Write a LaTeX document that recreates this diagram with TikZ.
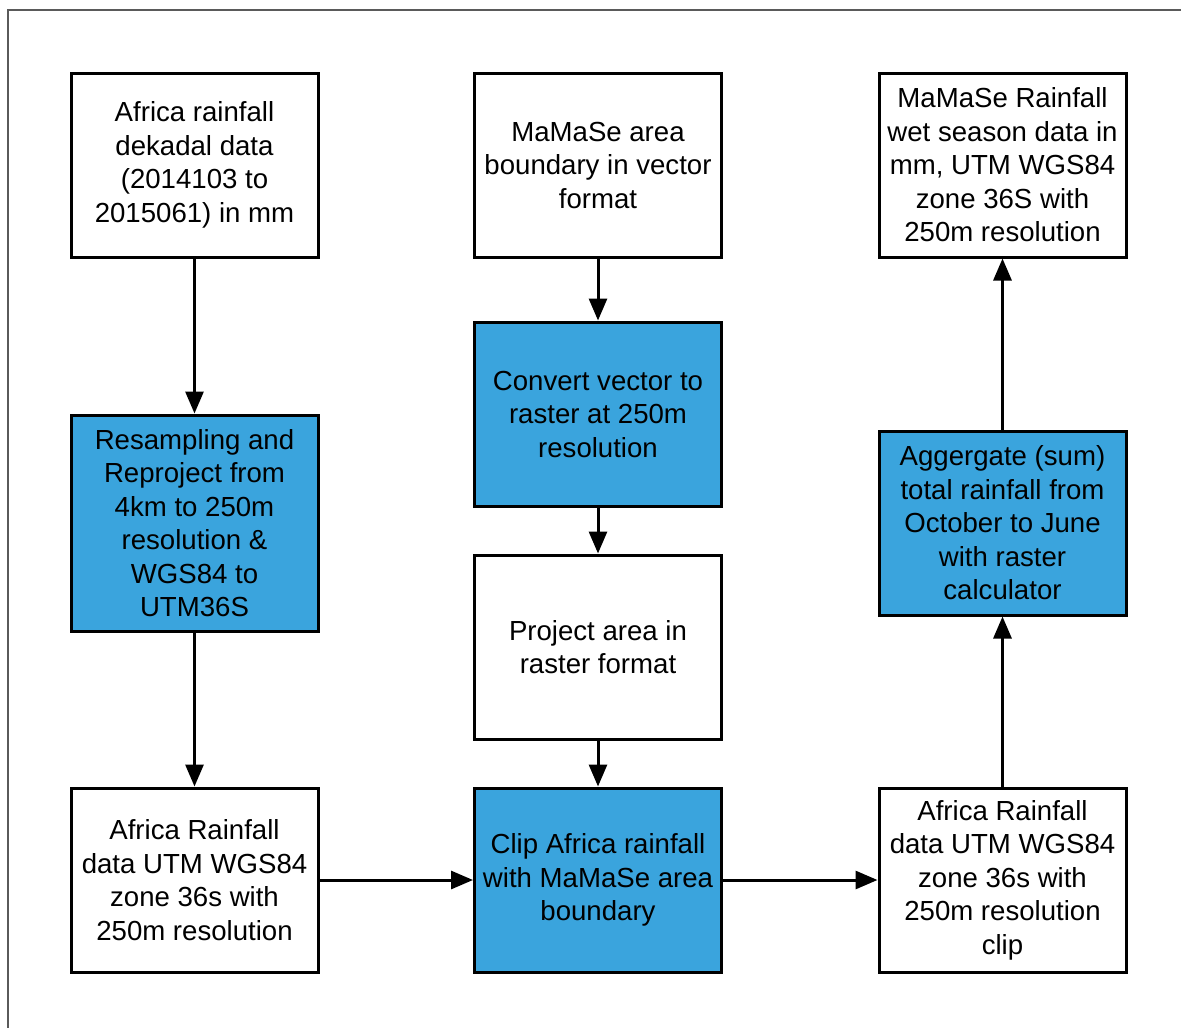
\documentclass[tikz,border=0pt]{standalone}
\usepackage{fontspec}
\setmainfont{Liberation Sans}
\usetikzlibrary{arrows.meta}
\definecolor{procblue}{RGB}{58,164,221}
\definecolor{framegray}{RGB}{90,90,90}
\begin{document}
\begin{tikzpicture}[x=1pt,y=-1pt,
  box/.style={draw=black, line width=3pt, fill=white, minimum width=247pt,
    minimum height=184pt, inner sep=0pt, align=center,
    font=\fontsize{27.6}{33.5}\selectfont},
  proc/.style={box, fill=procblue},
  flow/.style={draw=black, line width=3pt, -{Triangle[length=22pt,width=18pt]}}]
\useasboundingbox (0,0) rectangle (1181,1028);
% outer frame
\draw[framegray, line width=1.5pt] (8,1028) -- (8,10) -- (1181,10);

% left column
\node[box] (a1) at (194.5,165) {Africa rainfall\\dekadal data\\(2014103 to\\2015061) in mm};
\node[proc, minimum height=216pt] (a2) at (194.5,523) {Resampling and\\Reproject from\\4km to 250m\\resolution \&\\WGS84 to\\UTM36S};
\node[box] (a3) at (194.5,880) {Africa Rainfall\\data UTM WGS84\\zone 36s with\\250m resolution};

% middle column
\node[box] (b1) at (598,165) {MaMaSe area\\boundary in vector\\format};
\node[proc] (b2) at (598,414) {Convert vector to\\raster at 250m\\resolution};
\node[box] (b3) at (598,647) {Project area in\\raster format};
\node[proc] (b4) at (598,880) {Clip Africa rainfall\\with MaMaSe area\\boundary};

% right column
\node[box] (c1) at (1002.5,165) {MaMaSe Rainfall\\wet season data in\\mm, UTM WGS84\\zone 36S with\\250m resolution};
\node[proc] (c2) at (1002.5,523) {Aggergate (sum)\\total rainfall from\\October to June\\with raster\\calculator};
\node[box] (c3) at (1002.5,880) {Africa Rainfall\\data UTM WGS84\\zone 36s with\\250m resolution\\clip};

% connectors
\draw[flow] (a1) -- (a2);
\draw[flow] (a2) -- (a3);
\draw[flow] (a3) -- (b4);
\draw[flow] (b1) -- (b2);
\draw[flow] (b2) -- (b3);
\draw[flow] (b3) -- (b4);
\draw[flow] (b4) -- (c3);
\draw[flow] (c3) -- (c2);
\draw[flow] (c2) -- (c1);
\end{tikzpicture}
\end{document}
